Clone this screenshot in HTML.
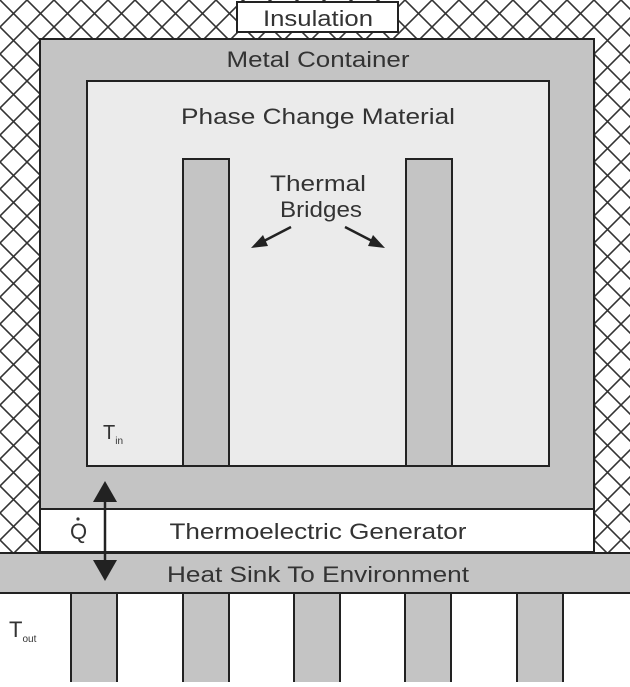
<!DOCTYPE html>
<html><head><style>body{margin:0}</style></head><body>
<svg width="630" height="682" xmlns="http://www.w3.org/2000/svg" font-family="Liberation Sans, sans-serif">
<defs>
<pattern id="h" width="27" height="27" patternUnits="userSpaceOnUse">
<rect width="27" height="27" fill="#fff"/>
<path d="M0,0L27,27M27,0L0,27" stroke="#333" stroke-width="1.6"/>
</pattern>
</defs>
<rect x="0" y="0" width="630" height="553" fill="url(#h)"/>
<rect x="0" y="553" width="630" height="129" fill="#fff"/>
<rect x="237" y="2" width="161" height="30" fill="#fff" stroke="#222" stroke-width="2"/>
<g font-size="22" fill="#333" text-anchor="middle">
<text x="318" y="26" textLength="110" lengthAdjust="spacingAndGlyphs">Insulation</text>
<text x="318" y="67" textLength="183" lengthAdjust="spacingAndGlyphs">Metal Container</text>
</g>
<rect x="40" y="39" width="554" height="470" fill="#c4c4c4" stroke="#222" stroke-width="2"/>
<text x="318" y="67" font-size="22" fill="#333" text-anchor="middle" textLength="183" lengthAdjust="spacingAndGlyphs">Metal Container</text>
<rect x="87" y="81" width="462" height="385" fill="#ebebeb" stroke="#222" stroke-width="2"/>
<text x="318" y="124" font-size="22" fill="#333" text-anchor="middle" textLength="274" lengthAdjust="spacingAndGlyphs">Phase Change Material</text>
<rect x="183" y="159" width="46" height="307" fill="#c4c4c4" stroke="#222" stroke-width="2"/>
<rect x="406" y="159" width="46" height="307" fill="#c4c4c4" stroke="#222" stroke-width="2"/>
<text x="318" y="191" font-size="22" fill="#333" text-anchor="middle" textLength="96" lengthAdjust="spacingAndGlyphs">Thermal</text>
<text x="321" y="217" font-size="22" fill="#333" text-anchor="middle" textLength="82" lengthAdjust="spacingAndGlyphs">Bridges</text>
<line x1="291" y1="227" x2="262" y2="242" stroke="#222" stroke-width="2.5"/>
<polygon points="251,248 263,235 268,246" fill="#222"/>
<line x1="345" y1="227" x2="374" y2="242" stroke="#222" stroke-width="2.5"/>
<polygon points="385,248 373,235 368,246" fill="#222"/>
<text x="103" y="439" font-size="20" fill="#333">T<tspan font-size="10" dy="5">in</tspan></text>
<rect x="40" y="509" width="554" height="43" fill="#fff" stroke="#222" stroke-width="2"/>
<text x="318" y="539" font-size="22" fill="#333" text-anchor="middle" textLength="297" lengthAdjust="spacingAndGlyphs">Thermoelectric Generator</text>
<text x="70" y="539" font-size="22" fill="#333">Q</text>
<circle cx="78" cy="519" r="1.6" fill="#333"/>
<rect x="-2" y="553" width="634" height="40" fill="#c4c4c4" stroke="#222" stroke-width="2"/>
<text x="318" y="582" font-size="22" fill="#333" text-anchor="middle" textLength="302" lengthAdjust="spacingAndGlyphs">Heat Sink To Environment</text>
<line x1="105" y1="495" x2="105" y2="565" stroke="#222" stroke-width="2.5"/>
<polygon points="105,481 93,502 117,502" fill="#222"/>
<polygon points="105,581 93,560 117,560" fill="#222"/>
<g fill="#c4c4c4" stroke="#222" stroke-width="2">
<rect x="71" y="593" width="46" height="95"/>
<rect x="183" y="593" width="46" height="95"/>
<rect x="294" y="593" width="46" height="95"/>
<rect x="405" y="593" width="46" height="95"/>
<rect x="517" y="593" width="46" height="95"/>
</g>
<text x="9" y="637" font-size="22" fill="#333">T<tspan font-size="10" dy="5">out</tspan></text>
</svg>
</body></html>
